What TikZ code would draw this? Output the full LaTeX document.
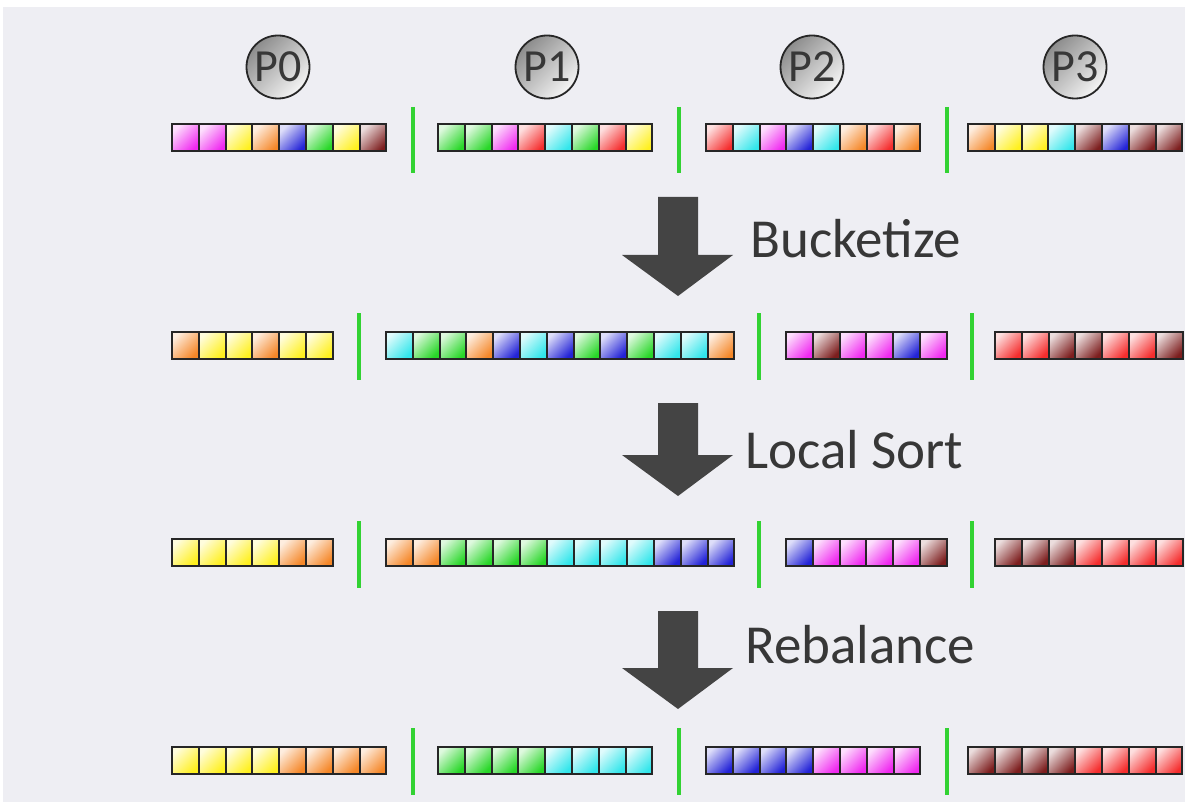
\documentclass[tikz,border=0pt]{standalone}
\usepackage{fontspec}
\setmainfont{Carlito}
\definecolor{bg}{RGB}{238,238,243}
\definecolor{cM}{RGB}{240,40,240}
\definecolor{cY}{RGB}{255,240,30}
\definecolor{cO}{RGB}{245,135,40}
\definecolor{cB}{RGB}{35,35,215}
\definecolor{cG}{RGB}{40,215,40}
\definecolor{cR}{RGB}{245,45,45}
\definecolor{cC}{RGB}{50,230,235}
\definecolor{cN}{RGB}{125,30,30}
\definecolor{sepg}{RGB}{50,210,50}
\definecolor{arrowc}{RGB}{68,68,68}
\definecolor{txt}{RGB}{55,55,55}
\tikzset{
  cell/.style={draw=black!85, line width=2pt, minimum width=26.8pt, minimum height=27pt, inner sep=0pt,
    top color=c#1!15!white, bottom color=c#1, shading angle=45},
  proc/.style={circle, draw=black!85, line width=1.8pt, minimum size=63pt, inner sep=0pt,
    top color=black!45, bottom color=black!4, shading angle=45,
    font=\fontsize{46}{50}\selectfont, text=txt},
  sep/.style={draw=sepg, line width=4pt},
  step label/.style={anchor=base west, inner sep=0pt, text=txt, font=\fontsize{55}{60}\selectfont},
  bigarrow/.style={fill=arrowc}
}
\newcommand{\cellrow}[5]{% #1 row id, #2 group id, #3 start x, #4 center y, #5 colour list
  \foreach \cc [count=\i from 0] in {#5} {
    \node[cell=\cc] (r#1#2\i) at ({#3+13.4+\i*26.8}, #4) {};
  }
}
\newcommand{\steparrow}[3]{% top, head start, tip
  \fill[bigarrow] (658,#1) -- (698,#1) -- (698,#2) -- (733,#2) -- (678,#3) -- (622,#2) -- (658,#2) -- cycle;
}
\begin{document}
\begin{tikzpicture}[x=1pt,y=-1pt]
\useasboundingbox (0,0) rectangle (1185,802);
\fill[bg] (0,0) rectangle (1185,802);
\fill[white] (0,0) rectangle (1185,7);
\fill[white] (0,0) rectangle (3,802);

% processors
\node[proc] (p0) at (278,67) {P0};
\node[proc] (p1) at (547,67) {P1};
\node[proc] (p2) at (812,67) {P2};
\node[proc] (p3) at (1075,67) {P3};

% separators
\foreach \x in {413,679,947} {
  \draw[sep] (\x,107) -- (\x,173);
  \draw[sep] (\x,728) -- (\x,795);
}
\foreach \x in {359,759,972} {
  \draw[sep] (\x,313) -- (\x,380);
  \draw[sep] (\x,521) -- (\x,588);
}

% row 1
\cellrow{1}{a}{172}{138}{M,M,Y,O,B,G,Y,N}
\cellrow{1}{b}{438}{138}{G,G,M,R,C,G,R,Y}
\cellrow{1}{c}{706}{138}{R,C,M,B,C,O,R,O}
\cellrow{1}{d}{968}{138}{O,Y,Y,C,N,B,N,N}

% row 2
\cellrow{2}{a}{172}{345}{O,Y,Y,O,Y,Y}
\cellrow{2}{b}{386}{345}{C,G,G,O,B,C,B,G,B,G,C,C,O}
\cellrow{2}{c}{786}{345}{M,N,M,M,B,M}
\cellrow{2}{d}{995}{345}{R,R,N,N,R,R,N}

% row 3
\cellrow{3}{a}{172}{552}{Y,Y,Y,Y,O,O}
\cellrow{3}{b}{386}{552}{O,O,G,G,G,G,C,C,C,C,B,B,B}
\cellrow{3}{c}{786}{552}{B,M,M,M,M,N}
\cellrow{3}{d}{995}{552}{N,N,N,R,R,R,R}

% row 4
\cellrow{4}{a}{172}{760}{Y,Y,Y,Y,O,O,O,O}
\cellrow{4}{b}{438}{760}{G,G,G,G,C,C,C,C}
\cellrow{4}{c}{706}{760}{B,B,B,B,M,M,M,M}
\cellrow{4}{d}{968}{760}{N,N,N,N,R,R,R,R}

% step arrows and labels
\steparrow{197}{255}{296}
\steparrow{403}{455}{496}
\steparrow{611}{668}{709}
\node[step label] (l1) at (750,258) {Bucketize};
\node[step label] (l2) at (745,468) {Local Sort};
\node[step label] (l3) at (745,663) {Rebalance};
\end{tikzpicture}
\end{document}
